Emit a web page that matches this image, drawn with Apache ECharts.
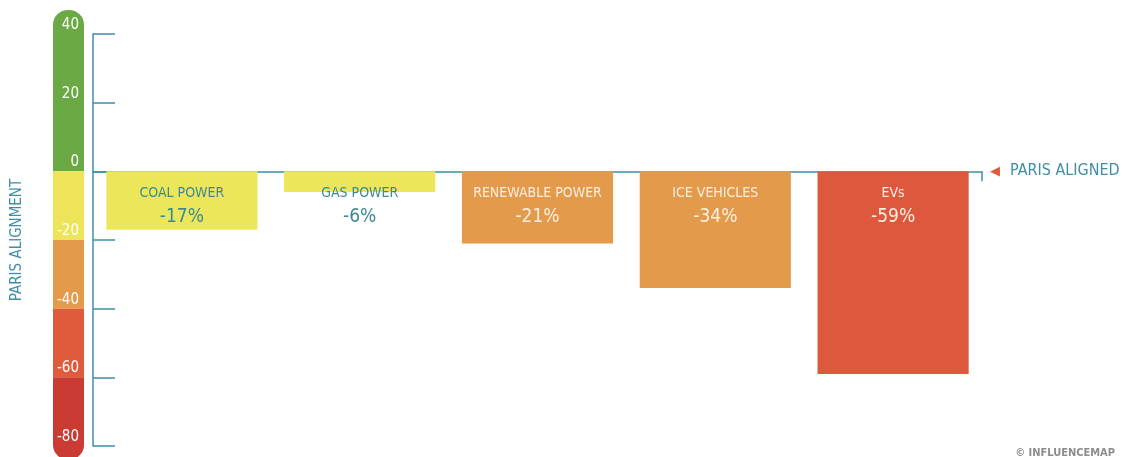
<!DOCTYPE html>
<html><head><meta charset="utf-8">
<script src="https://cdn.jsdelivr.net/npm/echarts@6/dist/echarts.min.js"></script>
<style>html,body{margin:0;padding:0;background:#fff}#c{width:1123px;height:457px}</style>
</head><body><div id="c"></div>
<script>
var categories = ['COAL POWER', 'GAS POWER', 'RENEWABLE POWER', 'ICE VEHICLES', 'EVs'];
var values = [-17, -6, -21, -34, -59];
var barColors = ['#ece65a', '#ece65a', '#e39a4a', '#e39a4a', '#dd583c'];
var labelColors = ['#3a8a95', '#3a8a95', '#fbefe2', '#fbefe2', '#fbefe2'];
var yTicks = [40, 20, 0, -20, -40, -60, -80];
var bandFrom = [47, 0, -20, -40, -60];
var bandTo = [0, -20, -40, -60, -84];
var bandColors = ['#6aa944', '#ede45a', '#e39a4a', '#e05b3c', '#c93b33'];

var FONT = '"DejaVu Sans Condensed", "Liberation Sans Narrow", sans-serif';
var TEAL = '#3f8ea8';

var chart = echarts.init(document.getElementById('c'));
var option = {
  animation: false,
  title: {
    text: '© INFLUENCEMAP', right: 3, bottom: -7,
    textStyle: { color: '#8c8c8c', fontSize: 11, fontWeight: 'bold', fontFamily: FONT }
  },
  grid: [
    { left: 93, right: 141, top: 34, bottom: 11, containLabel: false, outerBoundsMode: 'none' },
    { left: 53, width: 31, top: 34, bottom: 11, containLabel: false, outerBoundsMode: 'none' }
  ],
  xAxis: [
    {
      type: 'category', data: categories, gridIndex: 0,
      axisLine: { onZero: true, lineStyle: { color: TEAL, width: 1.5 } },
      axisTick: { show: false }, axisLabel: { show: false },
      name: '{t|◀}   {n|PARIS ALIGNED}', nameLocation: 'end', nameGap: 8,
      nameTextStyle: {
        rich: {
          t: { color: '#e05b3c', fontSize: 13, fontFamily: 'DejaVu Sans' },
          n: { color: TEAL, fontSize: 16, fontFamily: FONT }
        }
      }
    },
    { type: 'category', data: ['scale'], gridIndex: 1, show: false }
  ],
  yAxis: [
    {
      type: 'value', min: -80, max: 40, interval: 20, gridIndex: 0,
      splitLine: { show: false },
      axisLine: { show: true, lineStyle: { color: TEAL, width: 1.5 } },
      axisTick: { show: true, inside: true, length: 22, lineStyle: { color: TEAL, width: 1.5 } },
      axisLabel: {
        color: '#ffffff', fontSize: 15, fontFamily: FONT, margin: 14,
        verticalAlign: 'bottom', lineHeight: 18,
        formatter: function (v) { return yTicks.indexOf(v) >= 0 ? String(v) : ''; }
      },
      name: 'PARIS ALIGNMENT', nameLocation: 'middle', nameGap: 68,
      nameTextStyle: { color: TEAL, fontSize: 15, fontFamily: FONT }
    },
    { type: 'value', min: -80, max: 40, gridIndex: 1, show: false }
  ],
  series: [
    {
      type: 'custom', xAxisIndex: 1, yAxisIndex: 1, clip: false, z: 0, silent: true,
      data: bandFrom.map(function (f, i) { return [0, f, bandTo[i], i]; }),
      renderItem: function (params, api) {
        var i = api.value(3);
        var p1 = api.coord([0, api.value(1)]);
        var p2 = api.coord([0, api.value(2)]);
        var cs = params.coordSys;
        var r = [0, 0, 0, 0];
        if (i === 0) r = [15, 15, 0, 0];
        if (i === bandFrom.length - 1) r = [0, 0, 15, 15];
        return {
          type: 'rect',
          shape: { x: cs.x, y: p1[1], width: cs.width, height: p2[1] - p1[1], r: r },
          style: { fill: bandColors[i] }
        };
      }
    },
    {
      type: 'bar', xAxisIndex: 0, yAxisIndex: 0, barWidth: '85%',
      data: values.map(function (v, i) {
        return {
          value: v,
          itemStyle: { color: barColors[i] },
          label: { color: labelColors[i] }
        };
      }),
      label: {
        show: true, position: 'insideTop', distance: 11,
        fontFamily: FONT,
        formatter: function (p) { return '{n|' + p.name + '}\n{v|' + p.value + '%}'; },
        rich: {
          n: { fontSize: 14, fontFamily: FONT, lineHeight: 22 },
          v: { fontSize: 19, fontFamily: FONT, lineHeight: 26 }
        }
      }
    }
  ]
};
chart.setOption(option);

// small end tick at the right end of the zero line
var endPx = chart.convertToPixel({ gridIndex: 0 }, [categories.length - 0.5, 0]);
var gridRight = chart.getModel().getComponent('grid', 0).coordinateSystem.getRect();
chart.setOption({
  graphic: [{
    type: 'line', silent: true,
    shape: { x1: gridRight.x + gridRight.width, y1: endPx[1], x2: gridRight.x + gridRight.width, y2: endPx[1] + 10 },
    style: { stroke: TEAL, lineWidth: 1.5 }
  }]
});
</script>
</body></html>
